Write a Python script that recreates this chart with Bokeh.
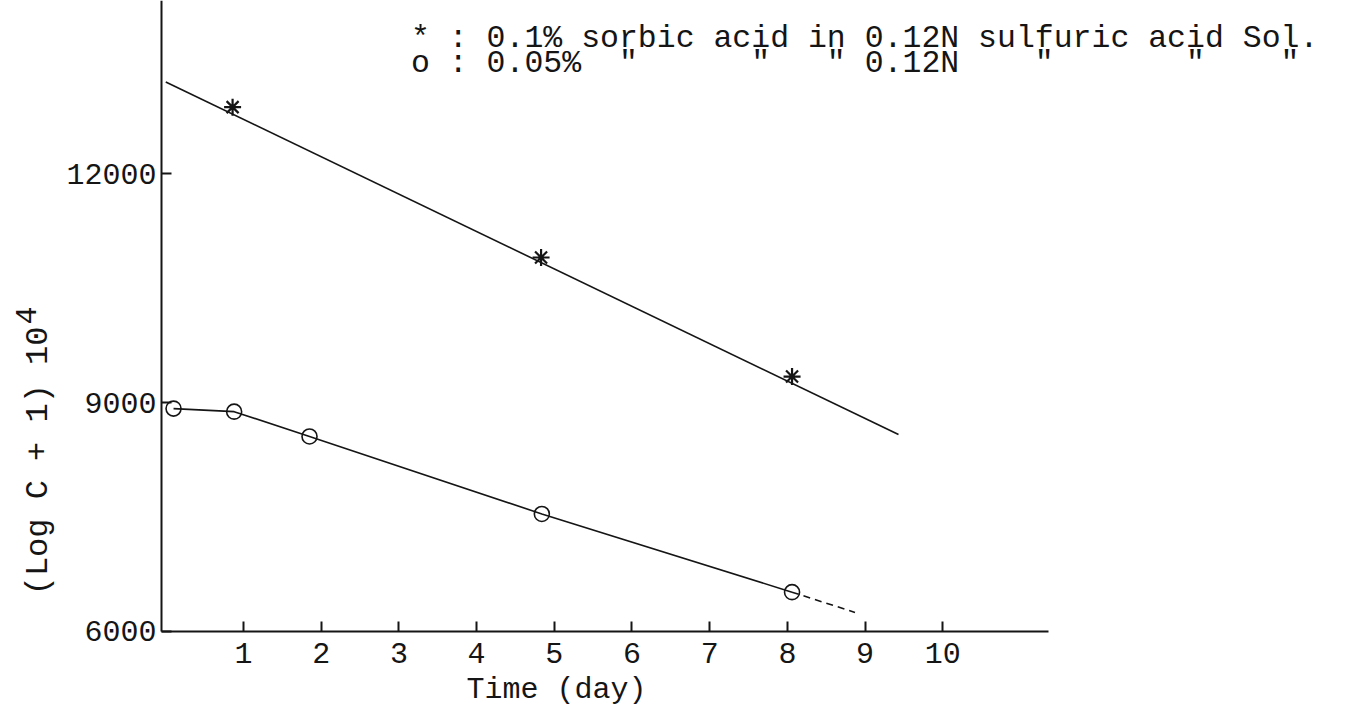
from bokeh.plotting import figure
from bokeh.models import Range1d, FixedTicker, Label
from bokeh.embed import file_html
from bokeh.resources import INLINE

# 0.1 % sorbic acid in 0.12 N sulfuric acid (asterisks + fitted line)
star_day = [0.86, 4.83, 8.06]
star_val = [12870, 10900, 9340]
star_fit_day = [0.0, 9.43]
star_fit_val = [13200, 8580]

# 0.05 % sorbic acid in 0.12 N sulfuric acid (open circles)
circ_day = [0.10, 0.88, 1.85, 4.84, 8.06]
circ_val = [8920, 8880, 8555, 7540, 6515]
circ_ext_day = [8.06, 8.87]
circ_ext_val = [6515, 6250]

x_ticks = [1, 2, 3, 4, 5, 6, 7, 8, 9, 10]
y_ticks = [6000, 9000, 12000]

x_title = "Time (day)"
y_title = "(Log C + 1) 10"
y_title_exp = "4"
NB = "\u00a0"
legend_1 = "* : 0.1% sorbic acid in 0.12N sulfuric acid Sol."
legend_2 = ("o : 0.05%" + NB * 2 + '"' + NB * 6 + '"' + NB * 3 + '"' + NB
            + "0.12N" + NB * 4 + '"' + NB * 7 + '"' + NB * 4 + '"')

INK = "#151515"
FONT = "Liberation Mono"

# the frame fills the whole canvas; the axes sit at fixed data positions
p = figure(width=1351, height=706,
           x_range=Range1d(-2.127, 15.26), y_range=Range1d(5017, 14267),
           output_backend="svg", toolbar_location=None,
           min_border_left=0, min_border_right=0,
           min_border_top=0, min_border_bottom=0)
p.grid.visible = False
p.outline_line_color = None
p.background_fill_color = "white"
p.border_fill_color = "white"

p.xaxis.fixed_location = 6000
p.yaxis.fixed_location = -0.055

for ax, ticks, bounds in ((p.xaxis[0], x_ticks, (-0.055, 11.36)),
                          (p.yaxis[0], y_ticks, (6000, 14267))):
    ax.ticker = FixedTicker(ticks=ticks)
    ax.bounds = bounds
    ax.axis_line_color = INK
    ax.axis_line_width = 2
    ax.major_tick_line_color = INK
    ax.major_tick_line_width = 2
    ax.major_tick_in = 10
    ax.major_tick_out = 0
    ax.minor_tick_line_color = None
    ax.major_label_text_font = FONT
    ax.major_label_text_font_size = "30px"
    ax.major_label_text_color = INK
p.xaxis.major_label_standoff = 12
p.yaxis.major_label_standoff = 5

# fitted line and observations, 0.1 %
p.line(star_fit_day, star_fit_val, line_color=INK, line_width=1.6)
p.scatter(star_day, star_val, marker="asterisk", size=17,
          line_color=INK, line_width=2.2)

# 0.05 % series with its dashed extrapolation
p.line(circ_day, circ_val, line_color=INK, line_width=1.6)
p.line(circ_ext_day, circ_ext_val, line_color=INK, line_width=1.6,
       line_dash="7 5")
p.scatter(circ_day, circ_val, marker="circle", size=15,
          line_color=INK, line_width=1.6, fill_alpha=0)

text_kw = dict(text_font=FONT, text_color=INK)
p.add_layout(Label(x=5.03, y=5227, text=x_title, text_align="center",
                   text_baseline="middle", text_font_size="30px", **text_kw))
# rotated axis title with a raised exponent
p.add_layout(Label(x=-1.638, y=9996, text=y_title, angle=1.5708,
                   text_align="right", text_baseline="middle",
                   text_font_size="32px", **text_kw))
p.add_layout(Label(x=-1.80, y=10022, text=y_title_exp, angle=1.5708,
                   text_align="left", text_baseline="middle",
                   text_font_size="30px", **text_kw))
p.add_layout(Label(x=3.156, y=13769, text=legend_1, text_align="left",
                   text_baseline="middle", text_font_size="31.5px", **text_kw))
p.add_layout(Label(x=3.156, y=13441, text=legend_2, text_align="left",
                   text_baseline="middle", text_font_size="31.5px", **text_kw))

open("out.html", "w").write(file_html(p, INLINE))
